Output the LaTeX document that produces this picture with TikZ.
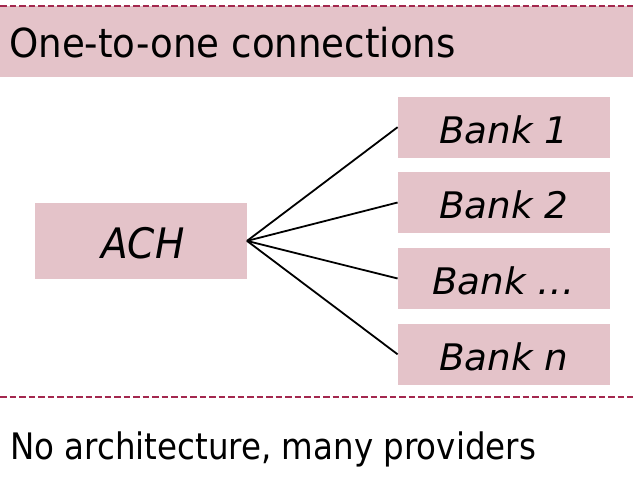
\documentclass[tikz,border=0pt]{standalone}
\usepackage{fontspec}
\setmainfont[FakeStretch=0.93]{DejaVu Sans}
\newfontfamily\footface[FakeStretch=0.89]{DejaVu Sans}
\newfontfamily\slantface[FakeStretch=0.93]{DejaVu Sans Oblique}
\newfontfamily\bankface[FakeStretch=1.02]{DejaVu Sans Oblique}
\definecolor{boxpink}{HTML}{E4C3C9}
\definecolor{rulered}{HTML}{A3284E}
\tikzset{
  pinkbox/.style={fill=boxpink, draw=none, inner sep=0pt, text depth=0pt},
  bankbox/.style={pinkbox, minimum width=212pt, minimum height=61pt,
    text height=32pt, font=\fontsize{36.6}{40}\bankface},
  hubbox/.style={pinkbox, minimum width=212pt, minimum height=76pt,
    text height=35pt, font=\fontsize{42}{46}\slantface},
  divider/.style={draw=rulered, line width=2pt, dash pattern=on 6.5pt off 3pt},
  link/.style={draw=black, line width=1.8pt},
  caption/.style={anchor=base west, inner sep=0pt}
}
\begin{document}
\begin{tikzpicture}[x=1pt, y=-1pt]
  \useasboundingbox (0,0) rectangle (633,488);
  % header band
  \fill[boxpink] (0,6) rectangle (633,77);
  \coordinate (topL) at (0,6);
  \coordinate (topR) at (633,6);
  \draw[divider] (topL) -- (topR);
  \node[caption, font=\fontsize{40}{44}\selectfont] (title) at (9,57) {One-to-one connections};

  % hub and banks
  \node[hubbox] (ach) at (140.8,240.9) {\hspace{4pt}ACH};
  \node[bankbox] (b1) at (503.8,127.2) {Bank 1};
  \node[bankbox] (b2) at (503.8,202.5) {Bank 2};
  \node[bankbox] (b3) at (503.8,278.5) {Bank \ldots};
  \node[bankbox] (b4) at (503.8,354.3) {Bank n};

  \foreach \b in {b1,b2,b3,b4}
    \draw[link] (ach.east) -- (\b.west);

  % footer
  \coordinate (botL) at (0,397);
  \coordinate (botR) at (633,397);
  \draw[divider] (botL) -- (botR);
  \node[caption, font=\fontsize{36.5}{40}\footface] (foot) at (10,459) {No architecture, many providers};
\end{tikzpicture}
\end{document}
